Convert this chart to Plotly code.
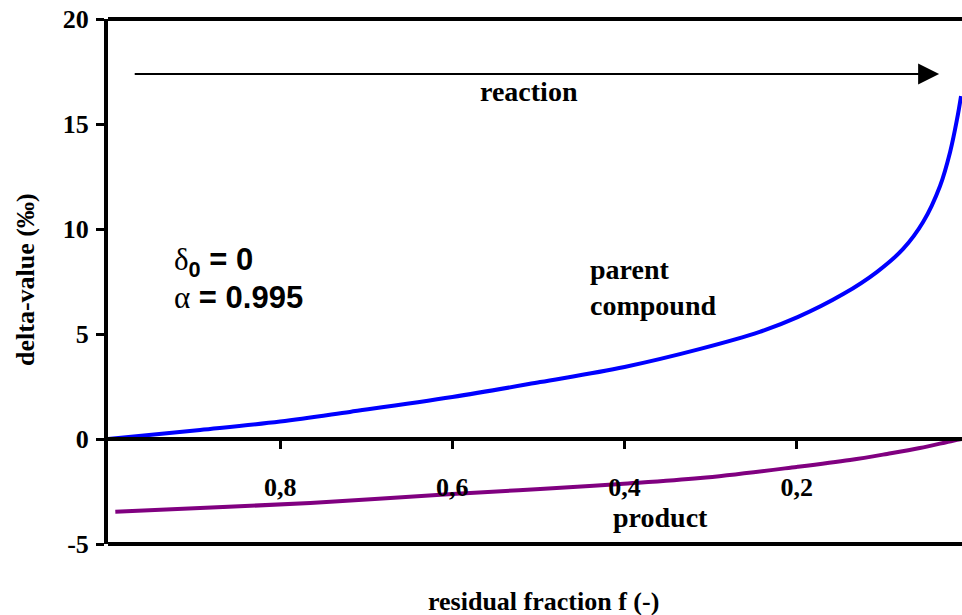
import plotly.graph_objects as go

# residual fraction f and delta values (permil)
f_parent = [1.0, 0.893, 0.800, 0.719, 0.600, 0.498, 0.400, 0.312, 0.243, 0.199,
            0.146, 0.107, 0.0764, 0.0532, 0.0335, 0.0218, 0.0137, 0.0091]
d_parent = [0.0, 0.43, 0.83, 1.29, 2.0, 2.71, 3.43, 4.29, 5.1, 5.8,
            6.9, 7.95, 9.05, 10.33, 12.05, 13.67, 15.24, 16.33]

f_product = [0.9915, 0.893, 0.765, 0.600, 0.498, 0.405, 0.312, 0.200,
             0.138, 0.095, 0.057, 0.0185, 0.008]
d_product = [-3.46, -3.29, -3.05, -2.62, -2.38, -2.14, -1.86, -1.33,
             -1.0, -0.71, -0.43, -0.08, 0.0]

x_tickvals = [0.8, 0.6, 0.4, 0.2]
x_ticktext = ["0,8", "0,6", "0,4", "0,2"]
y_tickvals = [-5, 0, 5, 10, 15, 20]
y_ticktext = ["-5", "0", "5", "10", "15", "20"]

SERIF = "Liberation Serif, Times New Roman, serif"
SANS = "Liberation Sans, Arial, sans-serif"

fig = go.Figure()
fig.add_trace(go.Scatter(x=f_parent, y=d_parent, mode="lines",
                         line=dict(color="#0000FF", width=4, shape="spline", smoothing=1.0),
                         showlegend=False, hoverinfo="skip"))
fig.add_trace(go.Scatter(x=f_product, y=d_product, mode="lines",
                         line=dict(color="#800080", width=4, shape="spline", smoothing=1.0),
                         showlegend=False, hoverinfo="skip"))

tickfont = dict(family=SERIF, size=26, color="black", weight="bold")

fig.update_layout(
    width=962, height=615,
    margin=dict(l=108, r=0, t=19, b=71),
    paper_bgcolor="white", plot_bgcolor="white",
    xaxis=dict(range=[1.0, 0.008], anchor="free", position=0.2,
               showline=True, linecolor="black", linewidth=3.5,
               ticks="outside", ticklen=8, tickwidth=3, tickcolor="black",
               tickvals=x_tickvals, ticktext=x_ticktext,
               tickfont=tickfont, ticklabelstandoff=16,
               showgrid=False, zeroline=False),
    yaxis=dict(range=[-5, 20], showline=True, linecolor="black", linewidth=4,
               ticks="outside", ticklen=8, tickwidth=3, tickcolor="black",
               tickvals=y_tickvals, ticktext=y_ticktext,
               tickfont=tickfont, ticklabelstandoff=2, ticklabeloverflow="allow",
               showgrid=False, zeroline=False),
    shapes=[
        dict(type="line", xref="paper", yref="paper", x0=0, x1=1, y0=1, y1=1,
             line=dict(color="black", width=4)),
        dict(type="line", xref="paper", yref="paper", x0=0, x1=1, y0=0, y1=0,
             line=dict(color="black", width=4)),
    ],
)

annfont = dict(family=SERIF, size=28, color="black", weight="bold")
fig.add_annotation(x=0.0346, y=17.38, ax=0.9707, ay=17.38, axref="x", ayref="y",
                   xref="x", yref="y", text="", showarrow=True,
                   arrowhead=2, arrowsize=2.1, arrowwidth=2, arrowcolor="black")
fig.add_annotation(x=0.5108, y=16.57, xref="x", yref="y", text="reaction",
                   showarrow=False, font=annfont, xanchor="center", yanchor="middle")
fig.add_annotation(x=0.4423, y=7.2, xref="x", yref="y", text="parent<br>compound",
                   showarrow=False, font=annfont, xanchor="left", yanchor="middle", align="left")
fig.add_annotation(x=0.3587, y=-3.76, xref="x", yref="y", text="product",
                   showarrow=False, font=annfont, xanchor="center", yanchor="middle")

symfont = dict(family=SANS, size=31, color="black", weight="normal")
fig.add_annotation(x=0.9254, y=8.45, xref="x", yref="y",
                   text="<span style='font-family:Liberation Serif'>δ</span><sub><b>0</b></sub><b> = 0</b>",
                   showarrow=False, font=symfont, xanchor="left", yanchor="middle")
fig.add_annotation(x=0.9254, y=6.75, xref="x", yref="y",
                   text="<span style='font-family:Liberation Serif'>α</span><b> = 0.995</b>",
                   showarrow=False, font=symfont, xanchor="left", yanchor="middle")

titlefont = dict(family=SERIF, size=26, color="black", weight="bold")
fig.add_annotation(x=(543 - 108) / 854, y=(544 - 601) / 525, xref="paper", yref="paper",
                   text="residual fraction f (-)", showarrow=False, font=titlefont,
                   xanchor="center", yanchor="middle")
fig.add_annotation(x=(25 - 108) / 854, y=(544 - 280) / 525, xref="paper", yref="paper",
                   text="delta-value (‰)", showarrow=False, font=titlefont, textangle=-90,
                   xanchor="center", yanchor="middle")

fig.write_html("out.html", config={"displayModeBar": False},
               post_script="document.body.style.margin='0';document.body.style.overflow='hidden';")
